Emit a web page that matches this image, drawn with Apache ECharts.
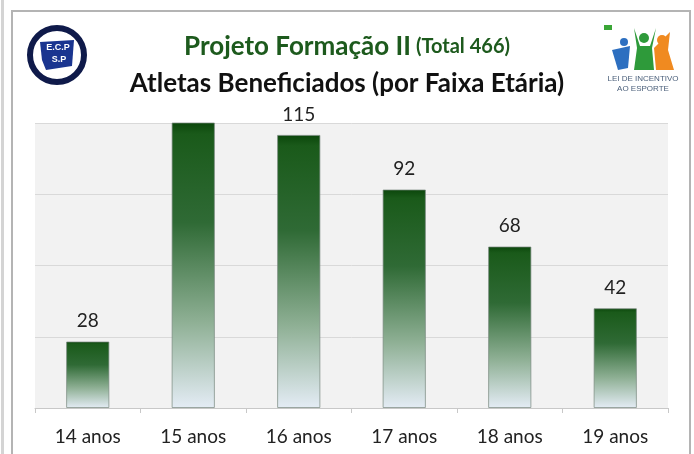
<!DOCTYPE html>
<html>
<head>
<meta charset="utf-8">
<title>Projeto Formação II</title>
<script src="https://cdn.jsdelivr.net/npm/echarts@6/dist/echarts.min.js"></script>
<style>
  html, body { margin: 0; padding: 0; background: #fff; }
  #chart { width: 694px; height: 454px; }
</style>
</head>
<body>
<div id="chart"></div>
<script>
// dados
var faixas = ['14 anos', '15 anos', '16 anos', '17 anos', '18 anos', '19 anos'];
var atletas = [28, 121, 115, 92, 68, 42];
var eixoMax = 120;
var eixoPasso = 30;

var myChart = echarts.init(document.getElementById('chart'));

var fonte = 'Lato, "Open Sans", sans-serif';

// barra acima do máximo do eixo fica sem rótulo (como no original)
var dadosBarra = atletas.map(function (v) {
  return v > eixoMax ? { value: v, label: { show: false } } : v;
});

var option = {
  animation: false,
  backgroundColor: '#fff',
  title: [{
    left: 'center',
    top: 29,
    text: '{a|Projeto Formação II} {b|(Total 466)}',
    textStyle: {
      rich: {
        a: { fontFamily: fonte, fontSize: 26, fontWeight: 'bold', color: '#1d5a1d' },
        b: { fontFamily: fonte, fontSize: 20, fontWeight: 'bold', color: '#1d5a1d' }
      }
    }
  }, {
    left: 'center',
    top: 66,
    text: 'Atletas Beneficiados (por Faixa Etária)',
    textStyle: { fontFamily: fonte, fontSize: 26, fontWeight: 'bold', color: '#111' }
  }],
  grid: {
    left: 35, right: 26, top: 123, bottom: 46,
    show: true, backgroundColor: '#f2f2f2', borderWidth: 0
  },
  xAxis: {
    type: 'category',
    data: faixas,
    axisLine: { lineStyle: { color: '#c8c8c8' } },
    axisTick: { show: true, length: 5, lineStyle: { color: '#c8c8c8' } },
    axisLabel: { fontFamily: fonte, fontSize: 19, color: '#222', margin: 19 }
  },
  yAxis: {
    type: 'value',
    min: 0, max: eixoMax, interval: eixoPasso,
    axisLabel: { show: false },
    axisLine: { show: false },
    axisTick: { show: false },
    splitLine: { lineStyle: { color: '#d9d9d9' } }
  },
  series: [{
    type: 'bar',
    data: dadosBarra,
    barWidth: '41%',
    clip: true,
    itemStyle: {
      borderColor: 'rgba(120,135,125,0.7)',
      borderWidth: 1,
      color: new echarts.graphic.LinearGradient(0, 0, 0, 1, [
        { offset: 0, color: '#0b460b' },
        { offset: 0.04, color: '#1a5a1a' },
        { offset: 0.35, color: '#2f6a35' },
        { offset: 0.7, color: '#8fb095' },
        { offset: 1, color: '#e4ecf5' }
      ])
    },
    label: {
      show: true, position: 'top', distance: 11,
      fontFamily: fonte, fontSize: 19, color: '#222'
    }
  }],
  graphic: [
    // moldura
    { type: 'rect', shape: { x: 1, y: 0, width: 3, height: 454 }, style: { fill: '#d4d4d4' }, silent: true },
    { type: 'rect', shape: { x: 12, y: 11, width: 678, height: 460 }, style: { fill: null, stroke: '#b4b4b4', lineWidth: 2 }, silent: true },
    // logo ECP
    { type: 'circle', shape: { cx: 57, cy: 55, r: 27 }, style: { fill: '#fff', stroke: '#0f1a4a', lineWidth: 6 }, silent: true },
    { type: 'polygon', shape: { points: [[40, 42], [74, 40], [72, 66], [46, 70], [42, 60]] }, style: { fill: '#1a3590' }, silent: true },
    { type: 'text', style: { x: 58, y: 48, text: 'E.C.P', fill: '#fff', font: 'bold 9px sans-serif', textAlign: 'center', textVerticalAlign: 'middle' }, silent: true },
    { type: 'text', style: { x: 59, y: 60, text: 'S.P', fill: '#fff', font: 'bold 9px sans-serif', textAlign: 'center', textVerticalAlign: 'middle' }, silent: true },
    // logo Lei de Incentivo ao Esporte
    { type: 'rect', shape: { x: 604, y: 25, width: 8, height: 5 }, style: { fill: '#3aa636' }, silent: true },
    { type: 'circle', shape: { cx: 624, cy: 42, r: 4 }, style: { fill: '#2d6fc0' }, silent: true },
    { type: 'polygon', shape: { points: [[612, 50], [630, 46], [628, 68], [618, 70]] }, style: { fill: '#2d6fc0' }, silent: true },
    { type: 'circle', shape: { cx: 644, cy: 38, r: 5 }, style: { fill: '#2e9a3a' }, silent: true },
    { type: 'polygon', shape: { points: [[634, 28], [640, 46], [650, 46], [656, 28], [652, 48], [654, 70], [634, 70], [637, 48]] }, style: { fill: '#2e9a3a' }, silent: true },
    { type: 'circle', shape: { cx: 662, cy: 40, r: 5 }, style: { fill: '#f08a20' }, silent: true },
    { type: 'polygon', shape: { points: [[654, 48], [670, 32], [668, 50], [674, 70], [656, 70]] }, style: { fill: '#f08a20' }, silent: true },
    { type: 'text', style: { x: 643, y: 79, text: 'LEI DE INCENTIVO', fill: '#4a5f7a', font: '8px "Liberation Sans Narrow", sans-serif', textAlign: 'center', textVerticalAlign: 'middle' }, silent: true },
    { type: 'text', style: { x: 643, y: 89, text: 'AO ESPORTE', fill: '#4a5f7a', font: '8px "Liberation Sans Narrow", sans-serif', textAlign: 'center', textVerticalAlign: 'middle' }, silent: true }
  ]
};

myChart.setOption(option);
</script>
</body>
</html>
